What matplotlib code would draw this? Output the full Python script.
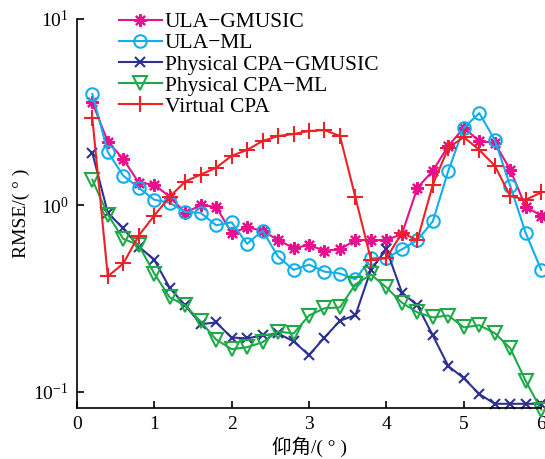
import matplotlib
matplotlib.use("Agg")
import matplotlib.pyplot as plt
import numpy as np

plt.rcParams['font.family'] = ['Liberation Serif', 'Noto Sans CJK SC']
plt.rcParams['mathtext.fontset'] = 'custom'
plt.rcParams['mathtext.rm'] = 'Liberation Serif'
plt.rcParams['mathtext.it'] = 'Liberation Serif:italic'

# elevation angles (deg)
angle = [0.2, 0.4, 0.6, 0.8, 1.0, 1.2, 1.4, 1.6, 1.8, 2.0,
         2.2, 2.4, 2.6, 2.8, 3.0, 3.2, 3.4, 3.6, 3.8, 4.0,
         4.2, 4.4, 4.6, 4.8, 5.0, 5.2, 5.4, 5.6, 5.8, 6.0]

ula_gmusic = [3.57, 2.19, 1.77, 1.32, 1.29, 1.11, 0.91, 1.00, 0.98, 0.71,
              0.76, 0.73, 0.65, 0.59, 0.61, 0.57, 0.58, 0.65, 0.65, 0.65,
              0.70, 1.24, 1.53, 2.08, 2.60, 2.21, 2.16, 1.55, 0.98, 0.88]
ula_ml = [3.95, 1.93, 1.44, 1.24, 1.07, 1.03, 0.92, 0.91, 0.78, 0.81,
          0.62, 0.73, 0.53, 0.45, 0.48, 0.44, 0.43, 0.40, 0.52, 0.52,
          0.58, 0.65, 0.82, 1.53, 2.60, 3.12, 2.24, 1.27, 0.71, 0.45]
cpa_gmusic = [1.91, 0.91, 0.75, 0.60, 0.51, 0.36, 0.29, 0.23, 0.235, 0.195,
              0.193, 0.20, 0.205, 0.186, 0.157, 0.195, 0.24, 0.257, 0.45, 0.58,
              0.34, 0.29, 0.20, 0.137, 0.118, 0.097, 0.086, 0.086, 0.086, 0.086]
cpa_ml = [1.37, 0.89, 0.66, 0.61, 0.43, 0.32, 0.29, 0.238, 0.19, 0.169,
          0.173, 0.184, 0.21, 0.205, 0.256, 0.28, 0.283, 0.376, 0.425, 0.362,
          0.30, 0.266, 0.25, 0.256, 0.221, 0.227, 0.206, 0.171, 0.114, 0.080]
virtual_cpa = [2.94, 0.415, 0.487, 0.687, 0.88, 1.11, 1.34, 1.46, 1.59, 1.84,
               1.98, 2.21, 2.35, 2.41, 2.50, 2.53, 2.35, 1.10, 0.51, 0.52,
               0.71, 0.65, 1.29, 2.03, 2.32, 1.98, 1.63, 1.12, 1.07, 1.17]

fig = plt.figure(figsize=(5.45, 4.59), dpi=100)
ax = fig.add_axes([0.141, 0.111, 0.852, 0.848])

ax.semilogy(angle, ula_gmusic, color='#E8108C', marker=(8, 2, 0), markersize=9,
            markeredgewidth=1.6, lw=1.5, label='ULA\u2212GMUSIC', clip_on=False)
ax.semilogy(angle, ula_ml, color='#10AEEA', marker='o', markersize=9, mfc='none',
            markeredgewidth=1.5, lw=1.5, label='ULA\u2212ML', clip_on=False)
ax.semilogy(angle, cpa_gmusic, color='#2E3192', marker='x', markersize=7,
            markeredgewidth=1.5, lw=1.5, label='Physical CPA\u2212GMUSIC', clip_on=False)
ax.semilogy(angle, cpa_ml, color='#1EAA48', marker='v', markersize=10, mfc='none',
            markeredgewidth=1.5, lw=1.5, label='Physical CPA\u2212ML', clip_on=False)
ax.semilogy(angle, virtual_cpa, color='#EE2028', marker='+', markersize=11,
            markeredgewidth=1.5, lw=1.5, label='Virtual CPA', clip_on=False)

ax.set_xlim(0, 6)
ax.set_ylim(0.0816, 10)
ax.set_xticks([0, 1, 2, 3, 4, 5, 6])
ax.set_yticks([0.1, 1, 10])
ax.set_yticklabels([r'$10^{-1}$', r'$10^{0}$', r'$10^{1}$'])
ax.yaxis.set_minor_locator(matplotlib.ticker.NullLocator())
ax.tick_params(direction='in', length=5, width=1.2, labelsize=14, pad=6)
ax.spines['top'].set_visible(False)
ax.spines['right'].set_visible(False)
ax.spines['left'].set_linewidth(1.2)
ax.spines['bottom'].set_linewidth(1.2)

ax.set_xlabel('仰角/( ° )', fontsize=14, labelpad=2)
ax.set_ylabel('RMSE/( ° )', fontsize=14, labelpad=2)

leg = ax.legend(loc='upper left', bbox_to_anchor=(0.09, 1.017), frameon=False,
                fontsize=15.5, handlelength=2.0, handletextpad=0.15,
                labelspacing=0.05, borderaxespad=0, borderpad=0)

fig.savefig('out.png', dpi=100)
